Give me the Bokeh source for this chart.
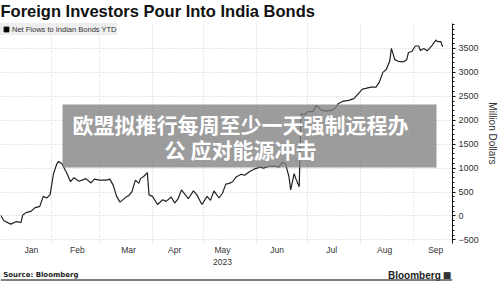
from datetime import datetime, timedelta
from bokeh.plotting import figure
from bokeh.layouts import column
from bokeh.models import (Range1d, FixedTicker, Grid, Label, BoxAnnotation, Legend,
                          LegendItem, ColumnDataSource, Span)
from bokeh.embed import file_html
from bokeh.resources import INLINE

# ---- data ----
dates = ["2023-01-02", "2023-01-04", "2023-01-08", "2023-01-11", "2023-01-14", "2023-01-15",
         "2023-01-17", "2023-01-20", "2023-01-22", "2023-01-25", "2023-01-27", "2023-01-29",
         "2023-01-31", "2023-02-02", "2023-02-04", "2023-02-05", "2023-02-07", "2023-02-10",
         "2023-02-12", "2023-02-14", "2023-02-17", "2023-02-21", "2023-02-24", "2023-02-26",
         "2023-03-01", "2023-03-05", "2023-03-07", "2023-03-09", "2023-03-11", "2023-03-13",
         "2023-03-17", "2023-03-18", "2023-03-20", "2023-03-22", "2023-03-24", "2023-03-25",
         "2023-03-27", "2023-03-29", "2023-03-30", "2023-04-01", "2023-04-04", "2023-04-07",
         "2023-04-09", "2023-04-12", "2023-04-14", "2023-04-16", "2023-04-18", "2023-04-22",
         "2023-04-25", "2023-04-27", "2023-04-30", "2023-05-03", "2023-05-05", "2023-05-07",
         "2023-05-10", "2023-05-12", "2023-05-14", "2023-05-16", "2023-05-18", "2023-05-20",
         "2023-05-23", "2023-05-25", "2023-05-28", "2023-05-31", "2023-06-03", "2023-06-05",
         "2023-06-08", "2023-06-12", "2023-06-14", "2023-06-16", "2023-06-18", "2023-06-20",
         "2023-06-21", "2023-06-23", "2023-06-24", "2023-06-26", "2023-06-27", "2023-06-29",
         "2023-07-01", "2023-07-04", "2023-07-06", "2023-07-09", "2023-07-12", "2023-07-15",
         "2023-07-17", "2023-07-19", "2023-07-22", "2023-07-25", "2023-07-28", "2023-07-30",
         "2023-08-02", "2023-08-04", "2023-08-07", "2023-08-10", "2023-08-12", "2023-08-14",
         "2023-08-16", "2023-08-18", "2023-08-19", "2023-08-21", "2023-08-23", "2023-08-26",
         "2023-08-28", "2023-08-29", "2023-08-31", "2023-09-02", "2023-09-04", "2023-09-05",
         "2023-09-07", "2023-09-09", "2023-09-12", "2023-09-14", "2023-09-15", "2023-09-17",
         "2023-09-18"]
net_flows = [15, -100, -170, -120, -135, 20,
             70, 100, 170, 200, 410, 375,
             440, 880, 1090, 1140, 1090, 880,
             715, 800, 725, 780, 690, 770,
             750, 750, 770, 645, 410, 290,
             410, 420, 510, 750, 680, 780,
             830, 905, 440, 410, 240, 340,
             305, 395, 270, 355, 545, 360,
             525, 440, 240, 410, 325, 525,
             375, 475, 665, 680, 715, 815,
             870, 850, 930, 985, 1020, 1000,
             1035, 1040, 1020, 1120, 1090, 815,
             545, 885, 780, 610, 2140, 2110,
             2180, 2180, 2310, 2210, 2190, 2210,
             2250, 2350, 2400, 2415, 2450, 2530,
             2650, 2665, 2690, 2690, 2800, 3000,
             3060, 3230, 3500, 3265, 3230, 3220,
             3265, 3415, 3435, 3550, 3550, 3455,
             3500, 3450, 3570, 3675, 3640, 3640,
             3535]

month_labels = ["Jan", "Feb", "Mar", "Apr", "May\n2023", "Jun", "Jul", "Aug", "Sep"]
month_label_dates = ["2023-01-20", "2023-02-16", "2023-03-18", "2023-04-14", "2023-05-12",
                     "2023-06-13", "2023-07-15", "2023-08-15", "2023-09-14"]
month_starts = ["2023-02-01", "2023-03-01", "2023-04-01", "2023-05-01", "2023-06-01",
                "2023-07-01", "2023-08-01", "2023-09-01"]
y_ticks = [-500, 0, 500, 1000, 1500, 2000, 2500, 3000, 3500]

title_text = "Foreign Investors Pour Into India Bonds"
series_name = "Net Flows to Indian Bonds YTD"
y_title = "Million Dollars"
source_text = "Source: Bloomberg"
brand_text = "Bloomberg"
overlay_line1 = "欧盟拟推行每周至少一天强制远程办"
overlay_line2 = "公 应对能源冲击"


def ms(s):
    d = datetime.strptime(s, "%Y-%m-%d")
    return int((d - datetime(1970, 1, 1)).total_seconds() * 1000)


def blank_fig(h):
    f = figure(width=500, height=h, x_range=Range1d(0, 500), y_range=Range1d(0, h),
               x_axis_location=None, y_axis_location=None, output_backend="svg",
               toolbar_location=None, min_border=0, title=None)
    f.outline_line_color = None
    f.xgrid.visible = False
    f.ygrid.visible = False
    f.background_fill_color = "white"
    f.border_fill_color = "white"
    return f


# ---- header (23 px) ----
top = blank_fig(23)
top.add_layout(Label(x=0, y=22, text=title_text,
                     text_font="Liberation Sans", text_font_style="bold",
                     text_font_size="16.5px", text_color="#111111",
                     text_baseline="top", text_align="left"))

# ---- main chart (246 px, frame 225 px) ----
x_vals = [datetime.strptime(d, "%Y-%m-%d") for d in dates]
src = ColumnDataSource(data=dict(x=x_vals, y=net_flows))

jan1 = datetime(2023, 1, 1)
x_start = jan1 + timedelta(days=0.97)
x_end = jan1 + timedelta(days=265.8)

p = figure(width=500, height=246, x_axis_type="datetime", y_axis_location="right",
           output_backend="svg", toolbar_location=None, title=None,
           x_range=Range1d(x_start, x_end), y_range=Range1d(-575, 4020),
           min_border_left=0, min_border_top=0, min_border_bottom=21, min_border_right=44,
           background_fill_color="white", border_fill_color="white")
p.outline_line_color = None

p.xgrid.visible = False
p.ygrid.visible = False
p.add_layout(Grid(dimension=0, ticker=FixedTicker(ticks=[ms(d) for d in month_starts]),
                  grid_line_color="#cfcfcf", grid_line_dash="1 2", grid_line_width=1))
p.add_layout(Grid(dimension=1, ticker=FixedTicker(ticks=y_ticks),
                  grid_line_color="#cfcfcf", grid_line_dash="1 2", grid_line_width=1))

xa = p.xaxis[0]
xa.ticker = FixedTicker(ticks=[ms(d) for d in month_label_dates])
xa.major_label_overrides = {ms(d): lab for d, lab in zip(month_label_dates, month_labels)}
xa.axis_line_color = None
xa.major_tick_line_color = None
xa.minor_tick_line_color = None
xa.major_tick_in = 0
xa.major_tick_out = 0
xa.minor_tick_in = 0
xa.minor_tick_out = 0
xa.major_label_standoff = 1
xa.major_label_text_font = "Liberation Sans"
xa.major_label_text_font_size = "8.5px"
xa.major_label_text_color = "#333333"

ya = p.yaxis[0]
ya.ticker = FixedTicker(ticks=y_ticks, minor_ticks=list(range(-500, 4001, 100)))
ya.axis_line_color = "#111111"
ya.major_tick_line_color = "#111111"
ya.minor_tick_line_color = "#111111"
ya.major_tick_in = 0
ya.major_tick_out = 3
ya.minor_tick_in = 0
ya.minor_tick_out = 2
ya.major_label_standoff = 3
ya.major_label_text_font = "Liberation Sans"
ya.major_label_text_font_size = "9px"
ya.major_label_text_color = "#333333"
ya.axis_label = y_title
ya.axis_label_text_font = "Liberation Sans"
ya.axis_label_text_font_style = "normal"
ya.axis_label_text_font_size = "10px"
ya.axis_label_text_color = "#333333"
ya.axis_label_standoff = 5

p.line("x", "y", source=src, line_color="#222222", line_width=1.2)

# legend with a square swatch (renderer holds no visible point)
sq_src = ColumnDataSource(data=dict(x=[float("nan")], y=[float("nan")]))
sq = p.scatter("x", "y", source=sq_src, marker="square", size=5, color="black")
legend = Legend(items=[LegendItem(label=series_name, renderers=[sq], index=0)],
                location="top_left", orientation="vertical",
                background_fill_color="#eeeeee", background_fill_alpha=1.0,
                border_line_color=None, margin=0, padding=2, spacing=0,
                glyph_width=12, glyph_height=12, label_standoff=0,
                label_text_font="Liberation Sans", label_text_font_size="7.5px",
                label_text_color="#333333", label_height=10)
p.add_layout(legend)

# overlay headline (frame-relative screen coordinates)
p.add_layout(BoxAnnotation(left=62, right=436, top=139, bottom=76,
                           left_units="screen", right_units="screen",
                           top_units="screen", bottom_units="screen",
                           fill_color="#808080", fill_alpha=0.78, line_color=None))
p.add_layout(Label(x=240, y=120, x_units="screen", y_units="screen", text=overlay_line1,
                   text_font="Noto Sans CJK SC", text_font_style="bold",
                   text_font_size="21px", text_color="white",
                   text_baseline="middle", text_align="center"))
p.add_layout(Label(x=240, y=95, x_units="screen", y_units="screen", text=overlay_line2,
                   text_font="Noto Sans CJK SC", text_font_style="bold",
                   text_font_size="21px", text_color="white",
                   text_baseline="middle", text_align="center"))

# ---- footer (12 px) ----
foot = blank_fig(12)
foot.add_layout(Label(x=3, y=6.5, text=source_text,
                      text_font="DejaVu Sans", text_font_style="bold",
                      text_font_size="7px", text_color="#222222",
                      text_baseline="middle", text_align="left"))
foot.add_layout(Label(x=487, y=6.5, text=brand_text,
                      text_font="Liberation Sans", text_font_style="bold",
                      text_font_size="10px", text_color="#222222",
                      text_baseline="middle", text_align="right"))
foot.add_layout(Label(x=494, y=6.5, text="■",
                      text_font="DejaVu Sans", text_font_size="9px", text_color="#333333",
                      text_baseline="middle", text_align="center"))
foot.add_layout(Span(location=1.5, dimension="width", line_color="#555555", line_width=1.5))

layout = column(top, p, foot, spacing=0)
open("out.html", "w").write(file_html(layout, INLINE))
